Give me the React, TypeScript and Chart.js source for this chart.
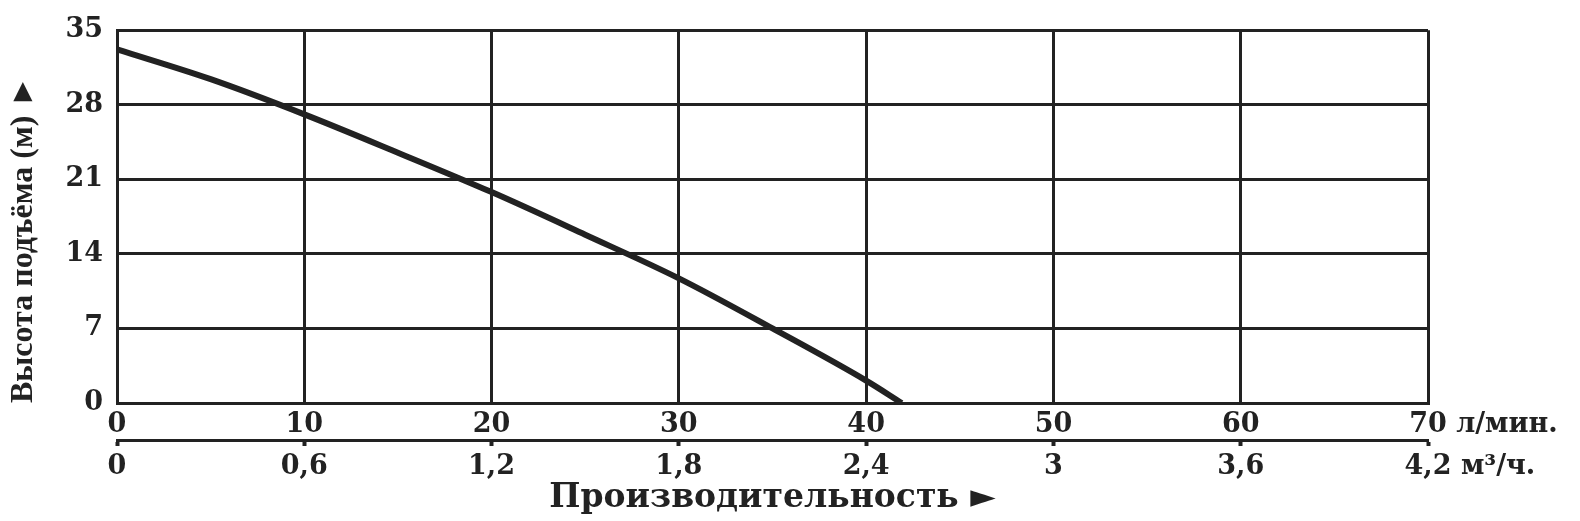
import React, { useEffect, useRef } from 'react';
import { Chart, registerables } from 'chart.js';

Chart.register(...registerables);

// напорная характеристика насоса
const flowLpm = [0, 5, 10, 15, 20, 25, 30, 35, 40, 41.9];
const headM = [33.2, 30.4, 27.1, 23.5, 19.8, 15.8, 11.7, 7.0, 2.1, 0];

const headTicks = [0, 7, 14, 21, 28, 35];
const flowTicks = [0, 10, 20, 30, 40, 50, 60, 70];
const cubicTicks = [0, 0.6, 1.2, 1.8, 2.4, 3, 3.6, 4.2];
const cubicLabels = ['0', '0,6', '1,2', '1,8', '2,4', '3', '3,6', '4,2'];

const ink = '#222';
const tickFont = { family: 'DejaVu Serif', weight: 'bold' as const, size: 27 };

// единицы измерения справа от последних подписей
const unitsPlugin = {
  id: 'units',
  afterDraw(chart: any) {
    const { ctx } = chart;
    const put = (scale: any, last: string, unit: string) => {
      const items = scale.getLabelItems();
      const item = items[items.length - 1];
      const [x, y] = item.options.translation;
      ctx.save();
      ctx.font = `bold ${tickFont.size}px "${tickFont.family}"`;
      ctx.fillStyle = ink;
      ctx.textAlign = 'left';
      ctx.textBaseline = item.options.textBaseline;
      const start = x - ctx.measureText(last).width / 2 + ctx.measureText(last + ' ').width;
      ctx.fillText(unit, start, y + (item.textOffset || 0));
      ctx.restore();
    };
    put(chart.scales.x, '70', 'л/мин.');
    put(chart.scales.x2, '4,2', 'м³/ч.');
  },
};

export default function App() {
  const canvasRef = useRef<HTMLCanvasElement | null>(null);

  useEffect(() => {
    const ctx = canvasRef.current?.getContext('2d');
    if (!ctx) return;
    const chart = new Chart(ctx, {
      type: 'line',
      data: {
        datasets: [
          {
            data: flowLpm.map((x, i) => ({ x, y: headM[i] })),
            borderColor: ink,
            borderWidth: 6,
            pointRadius: 0,
            cubicInterpolationMode: 'monotone',
            fill: false,
          },
        ],
      },
      options: {
        responsive: true,
        maintainAspectRatio: false,
        animation: false,
        layout: { padding: { top: 27, right: 152, bottom: 0, left: 0 } },
        plugins: { legend: { display: false }, tooltip: { enabled: false } },
        scales: {
          x: {
            type: 'linear',
            position: 'bottom',
            min: 0,
            max: 70,
            afterBuildTicks: (s: any) => { s.ticks = flowTicks.map((v) => ({ value: v })); },
            afterFit: (s: any) => { s.height = 37; },
            grid: { color: ink, lineWidth: 3, drawTicks: false },
            border: { color: ink, width: 3 },
            ticks: { color: ink, font: tickFont, padding: 6, maxRotation: 0 },
          },
          x2: {
            type: 'linear',
            position: 'bottom',
            min: 0,
            max: 4.2,
            afterBuildTicks: (s: any) => { s.ticks = cubicTicks.map((v) => ({ value: v })); },
            afterFit: (s: any) => { s.height = 81; },
            grid: { drawOnChartArea: false, drawTicks: true, tickLength: 6, tickWidth: 4, tickColor: ink, color: ink },
            border: { color: ink, width: 3 },
            ticks: {
              color: ink,
              font: tickFont,
              padding: 5,
              maxRotation: 0,
              callback: (_v: any, i: number) => cubicLabels[i],
            },
            title: {
              display: true,
              text: 'Производительность ►',
              color: ink,
              font: { family: 'DejaVu Serif', weight: 'bold', size: 33 },
              padding: { top: 0, bottom: 3 },
            },
          },
          y: {
            type: 'linear',
            min: 0,
            max: 35,
            afterBuildTicks: (s: any) => { s.ticks = headTicks.map((v) => ({ value: v })); },
            afterFit: (s: any) => { s.width = 117; },
            grid: { color: ink, lineWidth: 3, drawTicks: false },
            border: { color: ink, width: 3 },
            ticks: { color: ink, font: tickFont, padding: 14 },
            title: {
              display: true,
              align: 'start',
              text: 'Высота подъёма (м) ►',
              color: ink,
              font: { family: 'Liberation Serif', weight: 'bold', size: 32 },
              padding: { top: 5, bottom: 0 },
            },
          },
        },
      },
      plugins: [unitsPlugin],
    });
    return () => chart.destroy();
  }, []);

  return (
    <div style={{ position: 'fixed', left: 0, top: 0, width: 1580, height: 521, background: '#fff' }}>
      <canvas ref={canvasRef} />
    </div>
  );
}
